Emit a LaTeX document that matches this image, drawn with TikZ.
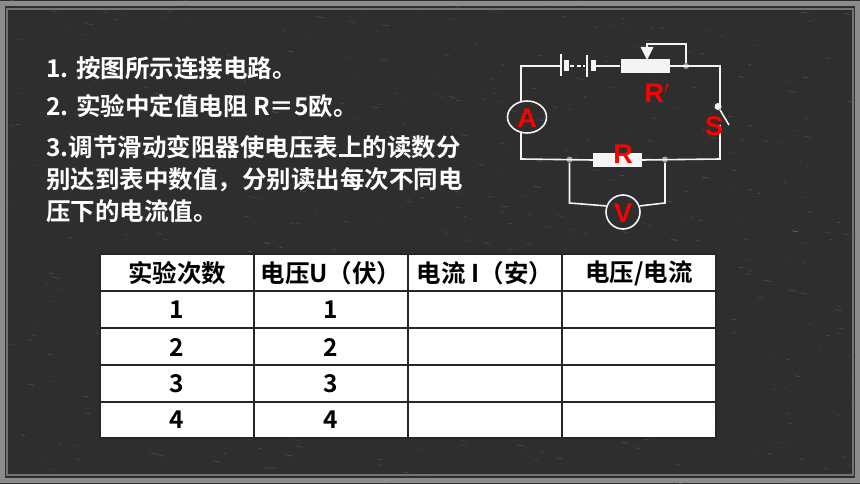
\documentclass[tikz,border=0pt]{standalone}
\usepackage{fontspec}
\setmainfont{Liberation Sans}
\newfontfamily\cjkb[BoldFont={Noto Sans CJK SC Bold}]{Noto Sans CJK SC}
\usetikzlibrary{shapes.geometric}
\definecolor{board}{HTML}{2E2E2E}
\definecolor{chalk}{HTML}{F4F4F4}
\definecolor{framec}{HTML}{8C8C8C}
\definecolor{redl}{HTML}{FF0000}
\tikzset{
  line/.style={draw=chalk,line width=1.6pt},
  para/.style={anchor=base west,inner sep=0pt,text=white,font=\cjkb\bfseries\fontsize{24.5}{24.5}\selectfont},
  cell/.style={anchor=center,inner sep=0pt,text=black,font=\cjkb\bfseries\fontsize{24.5}{24.5}\selectfont},
  redlabel/.style={inner sep=0pt,text=redl,font=\bfseries\fontsize{27}{27}\selectfont},
  junction/.style={circle,fill=black!38,draw=none,minimum size=6pt,inner sep=0pt},
  resbox/.style={rectangle,fill=chalk,draw=none,inner sep=0pt},
  meter/.style={draw=chalk,line width=1.6pt,inner sep=0pt},
  grid/.style={draw=black!85,line width=1.2pt}
}
\begin{document}
\begin{tikzpicture}[x=1pt,y=-1pt]
\useasboundingbox (0,0) rectangle (860,484);
\fill[board] (0,0) rectangle (860,484);
% chalk dust texture
\pgfmathsetseed{4217}
\foreach \i in {1,...,700}{
  \pgfmathsetmacro{\px}{rnd*860}
  \pgfmathsetmacro{\py}{rnd*484}
  \pgfmathsetmacro{\pl}{rnd*7+0.5}
  \pgfmathsetmacro{\po}{rnd*0.14+0.03}
  \draw[white,opacity=\po,line width=0.7pt] (\px,\py) -- ++(\pl,\pl*0.18);
}
% frame
\draw[framec,line width=5pt] (2.5,3.5) rectangle (857.5,480.5);
\draw[black!55,line width=1.2pt] (7,9) rectangle (853,475);
% instructions
\node[para] (t1) at (46,78) {1. 按图所示连接电路。};
\node[para] (t2) at (46,116) {2. 实验中定值电阻 R＝5欧。};
\node[para] (t3) at (46,157) {3.调节滑动变阻器使电压表上的读数分};
\node[para] (t4) at (46,189) {别达到表中数值，分别读出每次不同电};
\node[para] (t5) at (46,220) {压下的电流值。};
% table
\fill[white] (100,254) rectangle (716,438);
\foreach \yy in {254,291,328,365,402,438}{\draw[grid] (100,\yy) -- (716,\yy);}
\foreach \xx in {100,254,408,562,716}{\draw[grid] (\xx,254) -- (\xx,438);}
\node[cell] (h1) at (177,273) {实验次数};
\node[cell] (h2) at (331,273) {电压U（伏）};
\node[cell] (h3) at (485,273) {电流 I（安）};
\node[cell] (h4) at (639,273) {电压/电流};
\foreach \n/\yy in {1/310,2/347,3/384,4/420}{
  \node[cell] (a\n) at (177,\yy) {\n};
  \node[cell] (b\n) at (331,\yy) {\n};
}
% circuit
\coordinate (tl) at (521,66);
\coordinate (tr) at (720,66);
\coordinate (bl) at (521,159);
\coordinate (br) at (720,159);
\coordinate (ampT) at (521,102);
\coordinate (ampB) at (521,132);
\node[meter,ellipse,minimum width=39pt,minimum height=32pt] (amp) at (527,117) {};
\node[meter,circle,minimum size=34pt] (volt) at (623,212) {};
\node[resbox,minimum width=49pt,minimum height=14pt] (rheo) at (645,66) {};
\node[resbox,minimum width=49pt,minimum height=14pt] (res) at (617.5,160) {};
\node[junction] (j1) at (686,66) {};
\node[junction] (j2) at (569.5,159.5) {};
\node[junction] (j3) at (665,159.5) {};
% battery
\coordinate (b1T) at (561,54); \coordinate (b1B) at (561,76);
\coordinate (b2T) at (587,55); \coordinate (b2B) at (587,77);
\node[resbox,minimum width=5.5pt,minimum height=11pt] (c1) at (566.5,65.5) {};
\node[resbox,minimum width=5.5pt,minimum height=11pt] (c2) at (593.5,65.5) {};
\draw[line] (b1T) -- (b1B);
\draw[line] (b2T) -- (b2B);
\coordinate (dashA) at (570,66); \coordinate (dashB) at (585,66);
\draw[line,dash pattern=on 4pt off 2.5pt] (dashA) -- (dashB);
\coordinate (w1) at (561,66); \coordinate (w2) at (596,66);
\draw[line,line join=miter] (w1) -- (tl) -- (ampT);
\draw[line] (ampB) -- (bl) -- (res.west);
\draw[line] (w2) -- (rheo.west);
\draw[line] (rheo.east) -- (tr) -- (720,106);
\draw[line] (720,125) -- (br) -- (res.east);
% slider
\coordinate (sl1) at (686,44);
\coordinate (sl2) at (647,44);
\coordinate (tip) at (647,60);
\draw[line] (j1) -- (sl1) -- (sl2) -- (647,48);
\fill[chalk] (640.5,47) -- (653.5,47) -- (tip) -- cycle;
% voltmeter branch
\coordinate (vl) at (569.5,203);
\coordinate (vr) at (665,203);
\draw[line] (j2) -- (vl) -- (volt.160);
\draw[line] (j3) -- (vr) -- (volt.20);
% switch
\node[circle,fill=chalk,inner sep=0pt,minimum size=7pt] (sw) at (718,106.5) {};
\coordinate (swe) at (729,125);
\draw[chalk,line width=1.6pt] (sw) -- (swe);
% labels
\node[redlabel] (lA) at (527,118) {A};
\node[redlabel] (lRp) at (657,93) {R$'$};
\node[redlabel] (lR) at (623,154) {R};
\node[redlabel] (lS) at (714,126) {S};
\node[redlabel] (lV) at (623,213) {V};
\end{tikzpicture}
\end{document}
